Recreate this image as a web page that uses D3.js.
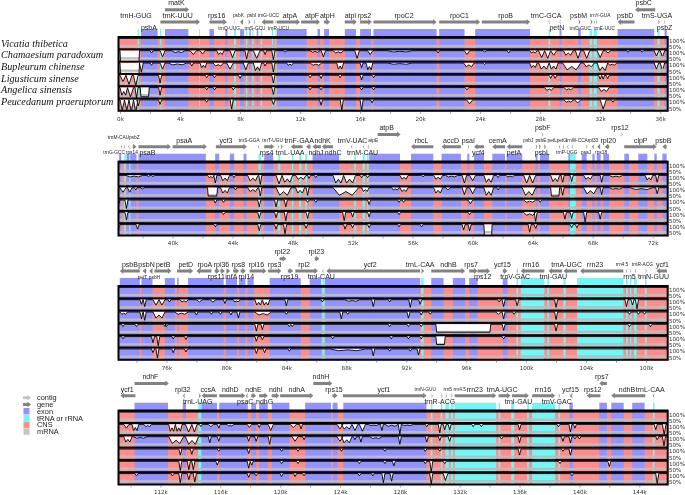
<!DOCTYPE html>
<html><head><meta charset="utf-8">
<script src="https://cdn.jsdelivr.net/npm/d3@7/dist/d3.min.js"></script>
<style>html,body{margin:0;padding:0;background:#fff}svg{display:block;filter:blur(.3px)}</style>
</head><body><svg id="c" width="685" height="495"></svg>
<script>
const species=["Vicatia thibetica","Chamaesium paradoxum","Bupleurum chinense","Ligusticum sinense","Angelica sinensis","Peucedanum praeruptorum"];
const percentLabels=["100%","50%"];
const domains=[[-0.1,36.5],[36.4,73],[72.8,109.45],[109.2,145.9]];
const legendItems=["contig","gene","exon","tRNA or rRNA","CNS","mRNA"];

// genes: name, start kb, end kb, strand, arrow lane, label lane, label kb
const genesP1=[
["trnH-GUG",1.15,1.22,-1,"m","a",1.07],["psbA",1.3,1.3,-1,"m","b",1.93],["matK",3.0,4.6,1,"h","t",3.76],["trnK-UUU",2.69,5.33,1,"m","a",3.84],
["rps16",5.96,7.12,1,"m","a",6.44],["trnQ-UUG",7.58,7.66,-1,"m","sb",7.27],["psbK",8.0,8.2,-1,"m","sa",7.89],["psbI",8.55,8.7,1,"m","sa",8.78],
["trnS-GCU",8.9,9.0,-1,"m","sb",9.0],["trnG-UCC",9.44,10.22,-1,"m","sa",9.89],["trnR-UCU",10.3,10.38,1,"m","sb",10.56],["atpA",10.44,12,1,"m","a",11.33],
["atpF",12.07,13.33,1,"m","a",12.8],["atpH",13.6,14,1,"m","a",13.82],["atpI",14.98,15.78,1,"m","a",15.36],["rps2",16,16.78,1,"m","a",16.29],
["rpoC2",16.89,21.1,1,"m","a",18.93],["rpoC1",21.27,24,1,"m","a",22.62],["rpoB",24.11,27.33,1,"m","a",25.7],["trnC-GCA",28.55,28.65,-1,"m","a",28.4],
["petN",29.28,29.38,-1,"m","b",29.11],["psbM",30.55,30.7,1,"m","a",30.56],["trnY-GUA",31.35,31.5,1,"m","sa",32],["trnD-GUC",31.55,31.65,1,"m","sb",30.67],
["trnE-UUC",31.7,31.8,1,"m","sb",32.3],["psbD",33.16,34.29,-1,"m","a",33.67],["psbC",34.33,35.67,-1,"h","t",34.9],["trnS-UGA",35.85,35.98,1,"m","a",35.78],["psbZ",36.25,36.33,-1,"m","b",36.29]];
const genesP2=[
["trnM-CAU",36.75,36.85,-1,"m","sh",36.4],["psbZ",37.05,37.15,-1,"m","sh",37.45],["trnG-GCC",36.55,36.65,-1,"m","sb",36.11],["rps14",37.35,37.6,1,"m","sb",37.29],
["psaB",37.73,39.89,1,"m","b",38.33],["psaA",40,42.29,1,"m","a",40.78],["ycf3",42.89,44.96,1,"m","a",43.56],["trnS-GGA",45.7,45.8,-1,"m","sa",45.11],
["rps4",46.11,46.78,1,"m","b",46.27],["trnT-UGU",47.0,47.1,1,"m","sa",46.67],["trnL-UAA",47.2,47.35,1,"m","b",47.84],["trnF-GAA",47.89,48.67,-1,"m","a",48.44],
["ndhJ",49.33,49.89,-1,"m","b",49.56],["ndhK",48.9,49.2,-1,"m","a",50.0],["ndhC",49.95,50.7,-1,"m","b",50.7],["trnV-UAC",51.9,52.0,-1,"m","a",52],
["atpE",53.0,53.1,-1,"m","sa",53.38],["trnM-CAU",52.7,52.8,-1,"m","b",52.67],["atpB",53.67,55.2,1,"h","t",54.27],
["rbcL",55.89,57.38,-1,"m","a",56.6],["accD",57.93,59.22,-1,"m","a",58.56],["psaI",59.66,59.76,1,"m","a",59.71],["ycf4",60.09,60.76,-1,"m","b",60.38],
["cemA",61.31,62.16,-1,"m","a",61.67],["petA",62.27,63.31,-1,"m","b",62.76],["psbF",64.6,64.7,1,"h","t",64.67],["psbJ",64.2,64.32,1,"m","sa",63.71],
["psbE",64.75,64.9,1,"m","sa",64.55],["psbL",64.4,64.55,1,"m","b",64.64],["petL",65.75,65.85,-1,"m","sa",65.3],["petG",66.0,66.1,-1,"m","sa",65.95],
["trnW-CCA",66.3,66.4,-1,"m","sa",66.95],["trnP-UGG",66.6,66.7,-1,"m","sb",66.27],["psaJ",67.55,67.65,1,"m","sb",67.56],["rpl33",67.95,68.1,-1,"m","sa",68.02],
["rps18",68.3,68.5,-1,"m","sb",68.56],["rpl20",68.8,69.1,-1,"m","a",69.04],["rps12",69.9,70,1,"h","t",69.82],["clpP",70.1,72.27,1,"m","a",71.2],["psbB",72.64,72.93,-1,"m","a",72.71]];
const genesP3=[
["psbB",72.89,74.22,-1,"m","a",73.56],["psbN",74.4,74.65,-1,"m","a",74.67],["petT",74.4,74.4,1,"m","sb",74.4],["psbH",74.85,75.07,-1,"m","sb",75.2],
["petB",75.2,76.33,1,"m","a",75.78],["petD",76.71,77.78,1,"m","a",77.29],["rpoA",78,79,-1,"m","a",78.56],["rpl36",79.22,79.55,1,"m","a",79.67],
["rps11",79.6,79.9,1,"m","b",79.33],["infA",80.0,80.25,1,"m","b",80.33],["rps8",80.45,80.85,1,"m","a",80.8],["rpl14",80.95,81.3,1,"m","b",81.33],
["rpl16",81.55,82.67,1,"m","a",82],["rps3",82.78,83.67,1,"m","a",83.22],["rpl22",83.55,84,1,"h","t",83.73],["rps19",84.1,84.45,1,"m","b",84.22],
["rpl23",85.9,86.2,1,"h","t",86],["rpl2",84.6,86.11,1,"m","a",85.18],["trnI-CAU",86.4,86.5,-1,"m","b",86.33],["ycf2",86.67,92.93,-1,"m","a",89.6],
["trnL-CAA",93,93.2,1,"m","a",92.93],["ndhB",93.67,95.93,1,"m","a",94.82],["rps7",96.2,96.76,1,"m","a",96.33],["rps12",96.76,97.6,1,"m","b",97.1],
["ycf15",98.44,98.76,1,"m","a",98.42],["trnV-GAC",99.36,99.47,-1,"m","b",99.27],["rrn16",99.64,101.22,-1,"m","a",100.33],["trnI-GAU",101.5,102.4,-1,"m","b",101.82],
["trnA-UGC",102.5,103.4,-1,"m","a",102.71],["rrn23",103.6,106.49,-1,"m","a",104.6],["rrn4.5",106.65,106.75,-1,"m","sa",106.4],["rrn5",106.95,107.03,-1,"m","b",106.9],
["trnR-ACG",107.25,107.35,-1,"m","sa",107.76],["trnN-GUU",107.95,108.05,1,"m","b",108.5],["ycf1",108.7,109.4,-1,"m","a",109.1]];
const genesP4=[
["ycf1",109.33,110.33,-1,"m","a",109.78],["ndhF",110.27,112.56,1,"h","t",111.33],["rpl32",113.5,113.65,-1,"m","a",113.49],["trnL-UAG",114.55,114.7,1,"m","b",114.49],
["ccsA",114.75,115.78,-1,"m","a",115.18],["ndhD",115.93,117.67,1,"m","a",116.67],["psaC",117.7,117.85,-1,"m","b",117.67],["ndhE",118.07,118.4,1,"m","a",118.22],
["ndhG",118.6,119.18,1,"m","b",118.96],["ndhI",119.44,119.95,1,"m","a",119.71],["ndhA",120,122.22,1,"m","a",121.11],["ndhH",122.22,123.49,1,"h","t",122.73],
["rps15",123.5,123.84,1,"m","a",123.6],["ycf1",124.2,129.78,1,"m","a",126.93],["trnN-GUU",130.1,130.2,1,"m","sa",129.7],["trnR-ACG",130.75,130.85,1,"m","b",130.67],
["rrn5",131.05,131.15,1,"m","sa",131.2],["rrn4.5",131.42,131.52,1,"m","sa",132],["rrn23",131.67,134.44,1,"m","a",133],["trnA-UGC",134.6,135.4,1,"m","a",134.84],
["trnI-GAU",135.5,136.62,1,"m","b",135.93],["rrn16",136.84,138.38,1,"m","a",137.56],["trnV-GAC",138.6,138.71,1,"m","b",138.49],["ycf15",139.35,139.55,-1,"m","a",139.4],
["rps12",140.49,141.4,-1,"m","a",140.89],["rps7",141.33,141.84,-1,"h","t",141.5],["ndhB",142.13,144.4,-1,"m","a",143.18],["trnL-CAA",144.9,145.02,-1,"m","a",144.73]];

const exonsP1=[[1.4,2.51],[3,4.56],[5.96,6.27],[7.02,7.16],[8,8.27],[8.62,8.71],[9.11,9.22],[10.44,12.44],[13.16,13.33],[13.6,13.93],[14.98,15.73],[16,16.73],[16.89,21.1],[21.27,22.96],[23.67,27.33],[29.29,29.42],[30.53,30.71],[33.16,35.6],[36.29,36.44]];
const rnasP1=[[1.18,1.26],[2.67,2.76],[5.27,5.33],[7.6,7.73],[8.4,8.48],[8.82,8.9],[9.38,9.47],[10.13,10.2],[10.36,10.42],[28.56,28.67],[31.29,31.47],[31.56,31.78],[35.82,35.96]];
const exonsP2=[[36.44,36.58],[36.93,37.6],[37.73,42.22],[42.84,43.11],[43.82,44.11],[44.73,44.93],[46.11,46.71],[49.33,51.11],[53.11,55.16],[55.89,57.38],[57.93,59.22],[59.64,59.78],[60.09,60.76],[61.31,62.16],[62.27,63.31],[64.2,64.33],[64.49,65.09],[66.38,66.49],[67.27,67.6],[67.98,68.13],[68.27,68.53],[68.71,69.09],[70.11,70.42],[71.04,71.64],[72.11,72.27],[72.64,72.93]];
const rnasP2=[[36.78,36.89],[37.11,37.2],[45.73,45.89],[47.04,47.18],[47.96,48.04],[48.44,48.58],[48.84,48.96],[52.11,52.22],[52.67,52.82],[52.96,53.07],[66.49,66.87]];
const exonsP3=[[72.89,74.22],[74.33,75.07],[75.89,76.56],[76.71,76.82],[77.44,79.82],[79.96,80.71],[80.84,81.27],[81.4,81.82],[82.89,84.96],[85.56,86.33],[86.56,92.93],[93.67,94.49],[95.11,95.93],[96.2,96.76],[98.44,98.76]];
const rnasP3=[[86.4,86.56],[93,93.16],[99.36,99.47],[99.64,101.22],[101.42,101.53],[102.49,102.64],[103.4,106.49],[106.67,106.78],[106.93,107.02],[107.2,107.38],[107.93,108.04]];
const exonsP4=[[110.27,112.51],[113.49,113.71],[114.73,115.78],[115.93,117.84],[118.07,118.4],[118.6,119.18],[119.44,120.62],[121.67,123.4],[123.51,123.84],[124.22,129.78],[139.33,139.56],[141.33,141.84],[142.13,142.96],[143.53,144.36]];
const rnasP4=[[114.53,114.73],[130.07,130.18],[130.73,130.84],[131.04,131.27],[131.4,131.56],[131.67,134.44],[134.6,134.71],[135.44,135.64],[136.51,136.62],[136.84,138.38],[138.6,138.71],[144.91,145.02]];

// conservation dips per species: [start kb, end kb, %] or [kb, %]
const dipsP1=[[],
[[0,1.3,0],[2.1,85],[2.67,3.0,60],[3.45,4.33,88],[4.67,5.1,75],[5.33,5.67,78],[6.44,6.93,75],[7.33,7.67,55],[8.33,8.55,45],[8.89,9.33,50],[9.67,75],[10.22,40],[10.9,11.1,90],[12.67,13.33,90],[13.4,13.7,60],[14.2,14.9,85],[15.65,15.95,50],[16.5,16.85,75],[17.8,19.5,92],[21.2,85],[22.95,23.3,75],[24.2,24.4,90],[25.8,26,85],[27.3,27.8,85],[27.9,28.3,55],[28.3,28.7,50],[28.7,29.1,70],[29.55,30.2,70],[30.35,30.7,50],[30.9,31.3,50],[31.8,32.2,55],[32.35,32.7,85],[33.85,90],[34.8,90],[35.6,35.9,65],[36,36.3,60]],
[[0,1.3,0],[1.3,1.55,40],[2.1,85],[2.67,3.0,60],[3.2,4.45,88],[4.67,4.9,80],[5.33,5.78,70],[6.2,6.89,80],[7.11,7.55,60],[8.22,8.55,55],[8.89,9.44,50],[9.67,80],[10.22,40],[11.1,11.55,85],[12.67,13.44,85],[14.44,14.9,60],[16,16.2,70],[16.4,16.85,55],[17.8,19.5,92],[22.9,23.6,75],[24.2,24.4,90],[27.3,27.8,70],[27.9,28.6,60],[28.6,29.2,60],[29.5,30.7,55],[30.9,31.6,75],[31.8,32.5,50],[32.5,33.1,85],[35.6,35.9,60],[36,36.3,50]],
[[0,.4,60],[.4,.8,40],[.9,1.2,30],[2.67,50],[5.78,85],[6.3,85],[8,80],[10.22,50],[12.67,85],[13.4,80],[14.67,85],[16.1,70],[16.9,85],[28.7,80],[29,80],[32,75],[32.2,75],[32.5,78]],
[[0,.5,50],[.5,.9,40],[1,1.2,30],[1.35,1.95,40],[2.67,50],[5.78,85],[6.3,85],[7.55,85],[10.22,55],[12.67,85],[13.4,85],[16.1,85],[16.9,85],[23,23.25,85],[28.3,28.9,82],[29.6,30.2,85],[31.9,32.6,75]],
[[0,.3,30],[.3,.6,30],[.6,.9,20],[.9,1.2,20],[1.22,60],[2.67,70],[5.78,85],[7.44,40],[10.22,70],[13.4,65],[14.78,30],[16.1,30],[16.8,80],[23.1,23.5,75],[29.6,30.2,85],[30.3,30.7,80],[32,32.4,40],[32.85,85]]];
const dipsP2=[[],
[[36.9,38,90],[38.4,92],[38.7,92],[42.33,42.78,85],[42.85,50],[43.2,43.8,65],[44.1,85],[45,45.7,65],[45.85,40],[46.9,47.3,45],[47.3,48,55],[48.2,48.9,75],[49.1,80],[49.55,85],[50.7,51.4,50],[51.4,52.2,50],[52.6,85],[53,85],[55.16,55.7,75],[56.7,90],[57.4,58,75],[58.2,59,90],[59.3,59.6,50],[59.8,60.2,65],[60.75,61.4,55],[61.7,85],[62.2,62.8,90],[63.4,63.8,50],[63.8,64.2,50],[65.2,65.8,60],[66,55],[66.6,60],[67.4,68,75],[68.6,55],[69.1,70,90],[71.5,72,70],[72.3,55]],
[[36.5,36.9,70],[37,37.3,70],[37.55,85],[38,90],[42.33,43,45],[43.2,43.8,65],[44.1,44.3,85],[45,45.7,75],[45.85,45],[46.9,47.9,50],[48.2,48.8,65],[49,50],[50.7,52.4,50],[52.6,53.1,75],[54.6,55.1,85],[55.16,55.7,75],[57.4,58,65],[58.2,58.5,85],[59.3,59.6,55],[59.8,60.2,60],[60.75,61.4,50],[61.7,85],[63.3,64.2,50],[65.2,65.8,45],[66,50],[67.4,68.3,60],[68.6,55],[69.1,70,90],[70.5,72,88],[72.3,60]],
[[36.93,45],[36.4,70],[42.85,80],[43.4,85],[45.78,55],[46.9,55],[47.55,55],[49,85],[49.55,85],[53.1,70],[55.1,85],[55.4,85],[59.7,60,75],[63.4,64.2,85],[64.5,85]],
[[36.93,50],[43.4,85],[45.78,60],[46.9,65],[47.55,45],[49,60],[51.44,45],[52,70],[53.1,70],[55.1,85],[59.7,59.9,85],[63.4,64.2,80],[64.2,40],[66.15,55],[66.6,60],[67.5,35],[68.5,55]],
[[36.4,75],[37.67,70],[42.85,85],[45.78,60],[46.9,70],[47.5,40],[48.9,75],[51.5,70],[52,80],[53.1,80],[55.1,85],[56.6,85],[59.4,65],[59.8,60],[60.75,61.3,0],[63.8,50],[64.2,75],[66.6,80],[66.95,80]]];
const dipsP3=[[],
[[74.33,70],[74.55,55],[75.1,75.5,65],[75.5,75.9,65],[76.2,85],[76.9,77.45,85],[78,78.4,85],[78.9,79.3,85],[79.8,80,75],[80.45,80.9,85],[81.9,82.4,65],[82.4,82.9,65],[84,60],[86.4,85],[87.9,88.9,90],[89.8,55],[90.9,85],[92.27,50],[92.93,70],[98.2,85],[98.5,55],[99.4,60],[102,50],[106.7,55],[107.1,65],[107.4,40]],
[[72.9,73.4,85],[74.33,55],[74.55,45],[75.1,75.9,60],[76.55,77.45,85],[78,80],[79,85],[79.6,85],[80.3,80],[80.8,60],[81.9,83,80],[84,85],[87.67,55],[88.1,85],[92.15,60],[93,80],[93.6,85],[98,98.3,85],[98.5,55],[99.2,85],[102,50],[106.9,85],[107.5,85],[107.9,85]],
[[73.1,85],[74,85],[75.9,85],[76,85],[82,55],[82.4,65],[84.2,85],[84.4,85],[90.9,85],[92.15,85],[93,85],[93.98,97.64,48],[98.5,60],[102,55],[106.9,85],[108.3,85]],
[[73.1,85],[75.1,60],[75.45,40],[76.45,85],[77.3,80],[82,70],[82.4,80],[87.1,85],[91,85],[92.15,85],[93,85],[93.98,94.6,48],[98.5,85]],
[[75.1,75],[75.4,40],[76.45,75],[77.3,80],[82,70],[82.55,75],[84.2,85],[86.9,89.3,88],[89.8,55],[90.9,85],[92.27,85],[92.82,60]]];
const dipsP4=[[],
[[109.55,109.9,75],[110.1,110.55,60],[110.9,111.4,85],[112.55,113,55],[113,113.45,55],[113.67,114.1,50],[114.1,114.45,50],[114.7,85],[115.2,115.55,85],[115.9,75],[116.45,116.9,88],[117.8,118.1,80],[118.6,80],[119.2,119.55,60],[120.67,121.1,80],[121.4,70],[123.8,124.2,70],[124.1,124.8,70],[124.8,125.2,60],[125.3,125.7,55],[125.9,126.6,92],[126.8,60],[127,127.9,88],[128,35],[128.1,128.9,92],[129.8,85],[130.67,45],[131,65],[131.33,65],[132.9,85],[133.45,85],[136,65],[138.6,85],[139.4,50],[139.7,75],[145.1,65],[145.55,145.78,30]],
[[109.55,110.1,65],[110.2,111.1,90],[112.55,113.55,55],[113.67,114.55,50],[115.3,60],[115.9,70],[117.9,70],[118.4,70],[119.3,50],[120.8,121.2,70],[121.6,80],[123.8,124.2,70],[124.1,124.8,60],[125,80],[125.4,65],[126,126.8,88],[128,50],[129.8,65],[130.67,75],[131.33,70],[134.8,85],[136,60],[138.9,70],[139.4,60],[139.7,85],[140,85],[145.2,80],[145.65,40]],
[[113.33,60],[114.1,65],[115.9,85],[117.9,70],[120.1,85],[121.2,85],[124.1,85],[127,85],[129.7,85],[130.67,85],[136,60],[138.9,85],[139.4,60]],
[[113.33,40],[113.9,45],[114.2,45],[115.8,75],[117.9,55],[118.1,75],[120.1,85],[121.2,85],[125.3,85],[127,85],[127.6,70],[129.7,85],[130.1,30],[131,85],[138.7,85],[142,65]],
[[110.4,85],[112.8,85],[113.33,40],[113.9,60],[114.3,45],[117.9,75],[118.4,85],[120.1,80],[121,80],[121.6,85],[125.3,85],[126.2,85],[126.9,40],[127.45,50],[130.1,30],[130.9,131.2,55],[139.5,85],[145.2,35]]];

const panels=[
 {dom:domains[0],top:37,genes:genesP1,exons:exonsP1,rnas:rnasP1,dips:dipsP1,ticks:d3.range(0,37,2),adir:1},
 {dom:domains[1],top:161.7,genes:genesP2,exons:exonsP2,rnas:rnasP2,dips:dipsP2,ticks:d3.range(38,73,2),adir:1},
 {dom:domains[2],top:286,genes:genesP3,exons:exonsP3,rnas:rnasP3,dips:dipsP3,ticks:d3.range(74,110,2),adir:1},
 {dom:domains[3],top:410.7,genes:genesP4,exons:exonsP4,rnas:rnasP4,dips:dipsP4,ticks:d3.range(110,146,2),adir:-1}];

const C={blue:"#9393ff",pink:"#ff8c8c",cyan:"#74f6f6",gray:"#bcbcbc",gene:"#828282",light:"#c4c4c4"};
const L=118.5,R=667.7,TH=12.3,N=6;
const svg=d3.select("#c");
const defs=svg.append("defs");
const sans="'Liberation Sans',Arial,sans-serif", deja="'DejaVu Sans',sans-serif";

svg.selectAll("text.sp").data(species).join("text").attr("class","sp")
 .attr("x",1).attr("y",(d,i)=>46.6+i*11.7).attr("font-family","'Liberation Serif',serif").attr("font-style","italic")
 .attr("font-size",10.2).attr("fill","#111").text(d=>d);

function geneArrow(x0,x1,dir,y,fill,g){
  const w=x1-x0;
  let d;
  if(w<3){
    const a=dir>0?x0:x1,b=dir>0?x1:x0;
    d=`M${a},${y-2.8}L${b},${y}L${a},${y+2.8}L${a+(b>a?.7:-.7)},${y}Z`;
  }else{
    const h=Math.min(3.5,w),s=1.5,H=2.9;
    const tip=dir>0?x1:x0,base=dir>0?x1-h:x0+h,tail=dir>0?x0:x1;
    d=`M${tail},${y-s}L${base},${y-s}L${base},${y-H}L${tip},${y}L${base},${y+H}L${base},${y+s}L${tail},${y+s}Z`;
  }
  g.append("path").attr("d",d).attr("fill",fill);
}

panels.forEach((p,pi)=>{
  const T=p.top,B=T+N*TH;
  const x=d3.scaleLinear().domain(p.dom).range([L,R]);
  const g=svg.append("g");
  g.selectAll("rect.be").data(p.exons).join("rect").attr("x",d=>x(d[0])).attr("width",d=>x(d[1])-x(d[0])).attr("y",T-8).attr("height",8).attr("fill",C.blue);
  g.selectAll("rect.br").data(p.rnas).join("rect").attr("class","br").attr("x",d=>x(d[0])).attr("width",d=>x(d[1])-x(d[0])).attr("y",T-8).attr("height",8).attr("fill",C.cyan);
  d3.range(N).forEach(t=>{
    const top=T+t*TH;
    const y=d3.scaleLinear().domain([50,100]).range([top+9,top+1.4]);
    const tg=g.append("g");
    const cid=`cl${pi}_${t}`;
    defs.append("clipPath").attr("id",cid).append("rect").attr("x",L).attr("y",top).attr("width",R-L).attr("height",TH-.6);
    tg.append("rect").attr("x",L).attr("y",top).attr("width",R-L).attr("height",TH).attr("fill",C.pink);
    tg.selectAll("rect.e").data(p.exons).join("rect").attr("x",d=>Math.max(L,x(d[0]))).attr("width",d=>x(d[1])-Math.max(L,x(d[0]))).attr("y",top).attr("height",TH).attr("fill",C.blue);
    tg.selectAll("rect.r").data(p.rnas).join("rect").attr("class","r").attr("x",d=>x(d[0])).attr("width",d=>x(d[1])-x(d[0])).attr("y",top).attr("height",TH).attr("fill",C.cyan);
    const pts=[[p.dom[0],100]];
    p.dips[t].map(d=>d.length===2?[d[0]-.1,d[0]+.1,d[1]]:d).sort((a,b)=>a[0]-b[0]).forEach(d=>{
      const [a,b,v]=d, w=b-a;
      pts.push([a,100]);
      if(w<.45) pts.push([(a+b)/2,v]);
      else if(v<=48) pts.push([a+.05,v],[b-.05,v]);
      else {
        // jagged notch between the two minima
        pts.push([a+w*.25,v],[a+w*.5,(v+100)/2],[a+w*.75,v]);
      }
      pts.push([b,100]);
    });
    pts.push([p.dom[1],100]);
    const gp=tg.append("g").attr("clip-path",`url(#${cid})`);
    gp.append("path").attr("d",d3.area().x(d=>x(d[0])).y0(y(100)).y1(d=>y(d[1]))(pts)).attr("fill","#fff");
    gp.append("rect").attr("x",L).attr("y",top+7.9).attr("width",R-L).attr("height",2.3).attr("fill",C.gray);
    gp.append("path").attr("d",d3.line().x(d=>x(d[0])).y(d=>y(d[1]))(pts)).attr("fill","none").attr("stroke","#000").attr("stroke-width",.9);
    if(t>0) geneArrow(p.adir>0?R-10:L+2,p.adir>0?R-2:L+10,p.adir,top+9,C.gray,gp);
    tg.append("rect").attr("x",L).attr("y",top-1).attr("width",R-L).attr("height",2).attr("fill","#000");
    percentLabels.forEach((s,k)=>{
      g.append("text").attr("x",669).attr("y",top+(k?12.1:5.8)).attr("font-family",deja).attr("font-size",5.6).attr("fill","#333").text(s);
    });
  });
  g.append("rect").attr("x",L).attr("y",T).attr("width",R-L).attr("height",B-T).attr("fill","none").attr("stroke","#000").attr("stroke-width",2);
  const ax=d3.axisBottom(x).tickValues(p.ticks).tickSize(2).tickPadding(2.8).tickFormat(d=>d%4===0?d+"k":"");
  const ag=g.append("g").attr("transform",`translate(0,${B+1})`).call(ax);
  ag.select(".domain").remove();
  ag.selectAll("line").attr("stroke","#777").attr("stroke-width",.7);
  ag.selectAll("text").attr("font-family",deja).attr("font-size",5.6).attr("fill","#333");
  const laneY={m:T-15,h:T-27.3};
  const labelY={a:T-19,b:T-6.8,t:T-31.6,sa:T-19.6,sb:T-7.4,sh:T-23};
  p.genes.forEach(d=>{
    const [name,s,e,dir,lane,ll,lk]=d;
    if(e>s) geneArrow(x(s),x(e),dir,laneY[lane],C.gene,g);
    const small=ll[0]==="s";
    g.append("text").attr("x",x(lk)).attr("y",labelY[ll]).attr("text-anchor","middle")
      .attr("font-family",sans).attr("font-size",small?4.8:7).attr("fill","#222").text(name);
  });
});

const lg=svg.append("g");
const ly=d3.scalePoint().domain(legendItems).range([397.7,431.5]);
const lfill={"exon":C.blue,"tRNA or rRNA":C.cyan,"CNS":C.pink,"mRNA":C.light};
legendItems.forEach(s=>{
  const yy=ly(s);
  if(s==="contig") geneArrow(23,31,1,yy,C.light,lg);
  else if(s==="gene") geneArrow(23,31,1,yy,C.gene,lg);
  else lg.append("rect").attr("x",23.5).attr("y",yy-3.2).attr("width",6).attr("height",6.4).attr("fill",lfill[s]);
  lg.append("text").attr("x",37).attr("y",yy+2.6).attr("font-family",sans).attr("font-size",7.4).attr("fill","#222").text(s);
});
</script></body></html>
